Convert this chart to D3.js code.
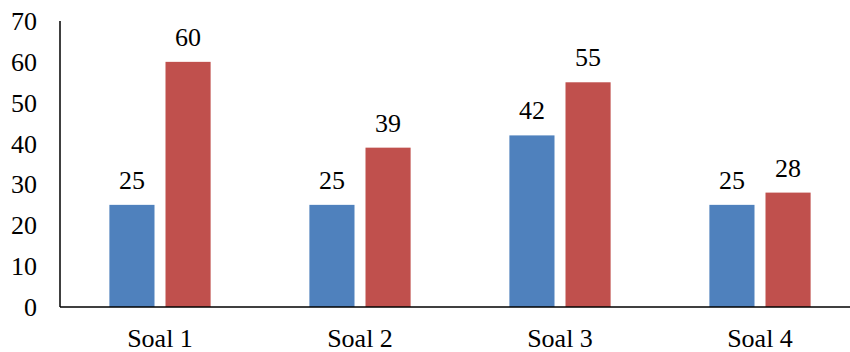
<!DOCTYPE html>
<html>
<head>
<meta charset="utf-8">
<script src="https://cdn.jsdelivr.net/npm/d3@7"></script>
</head>
<body style="margin:0">
<svg id="chart" width="850" height="352"></svg>
<script>
"use strict";

var categories = ["Soal 1", "Soal 2", "Soal 3", "Soal 4"];
var seriesNames = ["A", "B"];
var seriesA = [25, 25, 42, 25];
var seriesB = [60, 39, 55, 28];
var yTicks = [0, 10, 20, 30, 40, 50, 60, 70];
var colors = ["#4F81BD", "#C0504D"];

var width = 850, height = 352;
var margin = {top: 21, left: 60, bottom: 45, right: -10};

var svg = d3.select("#chart");

var x = d3.scaleBand()
    .domain(categories)
    .range([margin.left, width - margin.right]);

var xInner = d3.scaleBand()
    .domain(seriesNames)
    .range([0, x.bandwidth()])
    .paddingInner(0.196)
    .paddingOuter(0.88);

var y = d3.scaleLinear()
    .domain([0, 70])
    .range([height - margin.bottom, margin.top]);

var rows = categories.map(function (c, i) {
    return {cat: c, values: [seriesA[i], seriesB[i]]};
});

function label(sel) {
    return sel.attr("font-family", "Liberation Serif")
        .attr("font-size", 26)
        .attr("fill", "#000");
}

// y labels
svg.append("g")
    .selectAll("text")
    .data(yTicks)
    .enter().append("text")
    .call(label)
    .attr("x", 37)
    .attr("y", function (d) { return y(d) + 9; })
    .attr("text-anchor", "end")
    .text(function (d) { return d; });

// bars
var groups = svg.append("g")
    .selectAll("g")
    .data(rows)
    .enter().append("g")
    .attr("transform", function (d) { return "translate(" + x(d.cat) + ",0)"; });

groups.selectAll("rect")
    .data(function (d) { return d.values.map(function (v, i) { return {s: seriesNames[i], v: v, i: i}; }); })
    .enter().append("rect")
    .attr("x", function (d) { return xInner(d.s); })
    .attr("y", function (d) { return y(d.v); })
    .attr("width", xInner.bandwidth())
    .attr("height", function (d) { return y(0) - y(d.v); })
    .attr("fill", function (d) { return colors[d.i]; });

groups.selectAll("text.val")
    .data(function (d) { return d.values.map(function (v, i) { return {s: seriesNames[i], v: v}; }); })
    .enter().append("text")
    .attr("class", "val")
    .call(label)
    .attr("x", function (d) { return xInner(d.s) + xInner.bandwidth() / 2; })
    .attr("y", function (d) { return y(d.v) - 16; })
    .attr("text-anchor", "middle")
    .text(function (d) { return d.v; });

// axes lines
svg.append("line")
    .attr("x1", margin.left).attr("x2", margin.left)
    .attr("y1", y(70)).attr("y2", y(0))
    .attr("stroke", "#000").attr("stroke-width", 1.5);

svg.append("line")
    .attr("x1", margin.left).attr("x2", width)
    .attr("y1", y(0)).attr("y2", y(0))
    .attr("stroke", "#000").attr("stroke-width", 1.5);

// category labels
svg.append("g")
    .selectAll("text")
    .data(categories)
    .enter().append("text")
    .call(label)
    .attr("x", function (d) { return x(d) + x.bandwidth() / 2; })
    .attr("y", y(0) + 40)
    .attr("text-anchor", "middle")
    .text(function (d) { return d; });
</script>
</body>
</html>
